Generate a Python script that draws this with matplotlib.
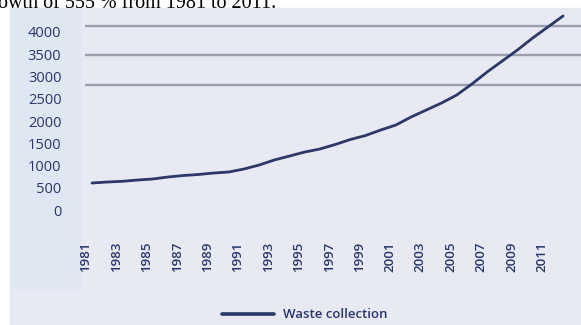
import matplotlib
matplotlib.use("Agg")
import matplotlib.pyplot as plt
from matplotlib.patches import Rectangle
from matplotlib.transforms import ScaledTranslation

# waste collection series, 1981-2012
years = list(range(1981, 2013))
waste = [607, 629, 645, 674, 697, 742, 775, 798, 831, 854,
         921, 1011, 1124, 1213, 1303, 1371, 1472, 1584, 1674, 1798,
         1910, 2090, 2247, 2404, 2584, 2831, 3101, 3348, 3596, 3865,
         4112, 4360]

y_ticks = [0, 500, 1000, 1500, 2000, 2500, 3000, 3500, 4000]
grid_levels = [3000, 3500, 4000]
x_ticks = list(range(1981, 2012, 2))

W, H = 581, 325
NAVY = "#2b3868"
TEXT = "#28366c"

plt.rcParams["font.family"] = ["Open Sans", "DejaVu Sans"]

fig = plt.figure(figsize=(W / 100, H / 100), dpi=100)
fig.patch.set_facecolor("white")


def box(x0, y0, x1, y1):
    # pixel box (top-left origin) -> figure fraction rect
    return [x0 / W, 1 - y1 / H, (x1 - x0) / W, (y1 - y0) / H]


# chart panel and the lighter label strip
fig.add_artist(Rectangle(box(10, 8, W, H)[:2], *box(10, 8, W, H)[2:],
                         transform=fig.transFigure, color="#e8eaf3", zorder=0))
fig.add_artist(Rectangle(box(10, 8, 80, 288)[:2], *box(10, 8, 80, 288)[2:],
                         transform=fig.transFigure, color="#dfe7f3", zorder=0))

# sentence running above the chart, cut by the top edge
fig.text(-2 / W, 1 - 7.5 / H, "owth of 555 % from 1981 to 2011.",
         family="Liberation Serif", fontsize=14.5, color="black",
         ha="left", va="baseline")

rect = box(85, 8, W, 230)

# gridlines live on their own scale
ax_grid = fig.add_axes(rect)
ax_grid.set_facecolor("none")
ax_grid.set_ylim(534, 4297)
ax_grid.set_xlim(0, 1)
ax_grid.set_yticks(grid_levels)
ax_grid.set_xticks([])
ax_grid.tick_params(left=False, labelleft=False)
ax_grid.grid(axis="y", color="#9a9fae", linewidth=1.7)
for s in ax_grid.spines.values():
    s.set_visible(False)

ax = fig.add_axes(rect)
ax.set_facecolor("none")
ax.plot(years, waste, color=NAVY, linewidth=2.0, label="Waste collection",
        solid_capstyle="round")
ax.set_xlim(1980.54, 2013.18)
ax.set_ylim(-449, 4539)

ax.set_yticks(y_ticks)
ax.set_yticklabels([str(v) for v in y_ticks])
ax.tick_params(axis="y", length=0, pad=17, labelsize=10.5, labelcolor=TEXT)

ax.set_xticks(x_ticks)
ax.set_xticklabels([str(v) for v in x_ticks], rotation=90, fontweight="semibold")
ax.tick_params(axis="x", length=0, pad=8.6, labelsize=9.5, labelcolor=TEXT)
shift = ScaledTranslation(-0.06, 0, fig.dpi_scale_trans)
for lbl in ax.get_xticklabels():
    lbl.set_transform(lbl.get_transform() + shift)

for s in ax.spines.values():
    s.set_visible(False)

leg = ax.legend(loc="center", bbox_to_anchor=(305 / W, 1 - 315 / H),
                bbox_transform=fig.transFigure, frameon=False, fontsize=9.5,
                labelcolor=TEXT, handlelength=3.9, handletextpad=0.75,
                prop={"weight": "semibold", "size": 9.5})
leg.get_lines()[0].set_linewidth(2.6)

fig.savefig("out.png", dpi=100)
